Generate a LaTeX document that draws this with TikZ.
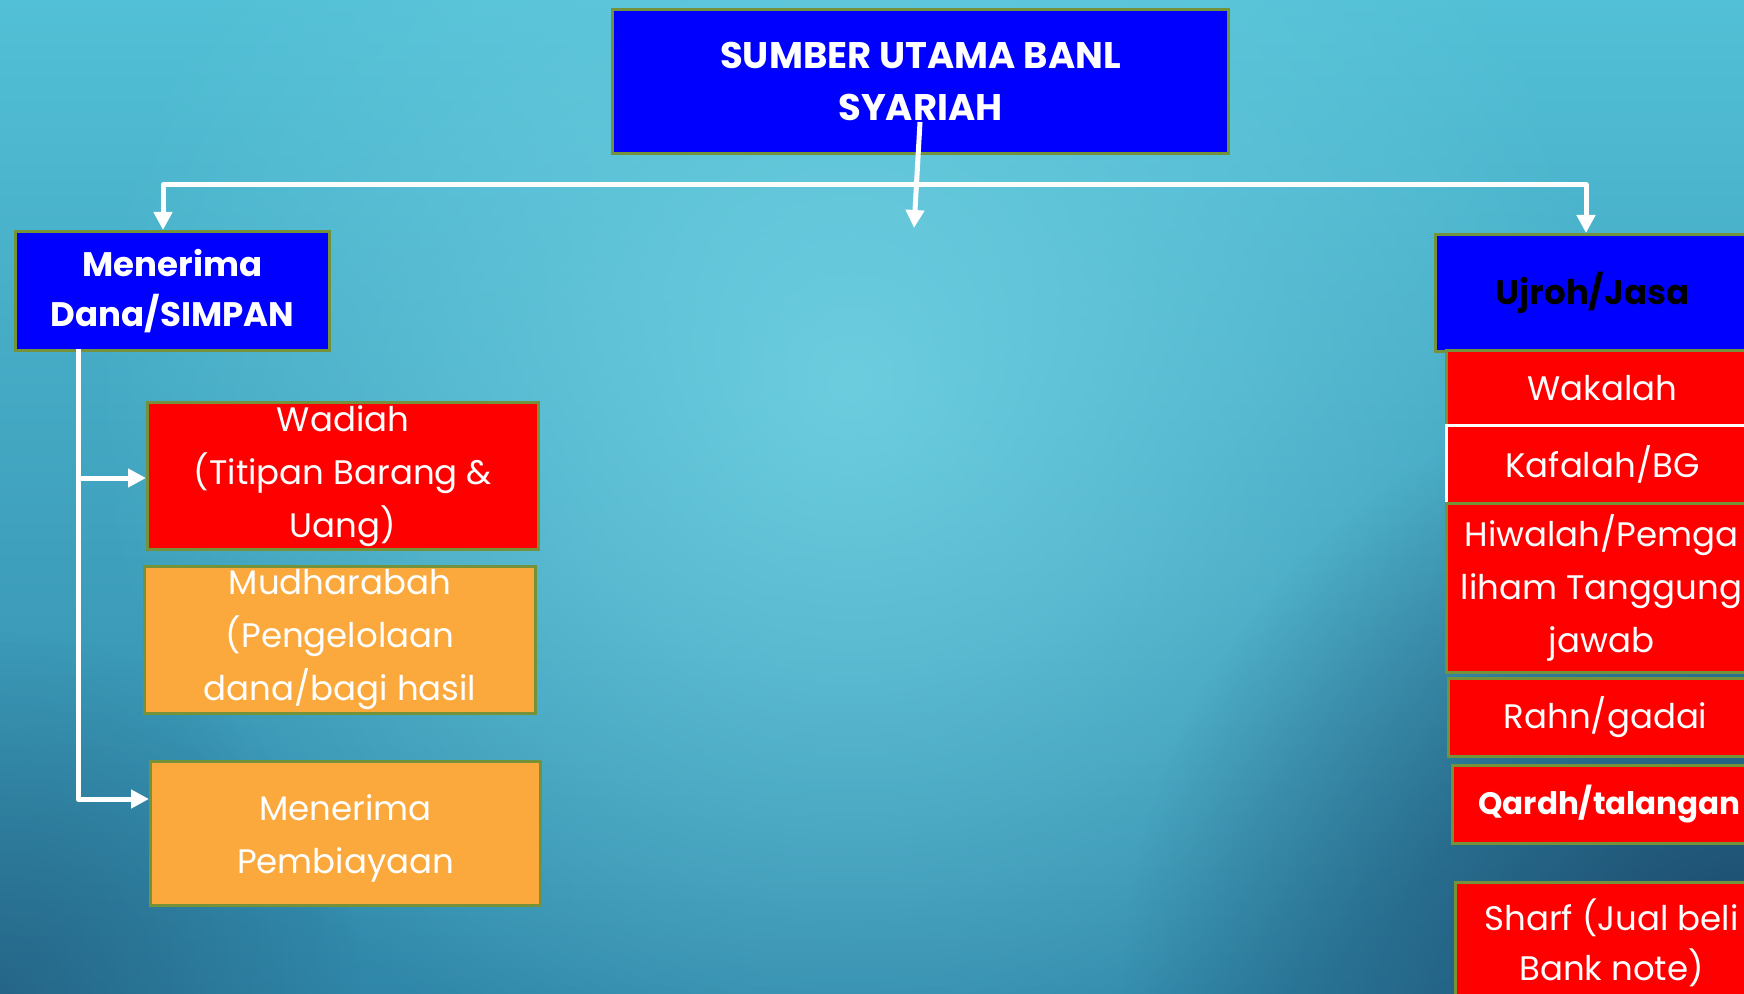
\documentclass[tikz,border=0pt]{standalone}
\usepackage{fontspec}
\setmainfont{Poppins}
\usetikzlibrary{arrows.meta,fadings,calc}
\definecolor{bgtop}{HTML}{52C0D6}
\definecolor{bgbot}{HTML}{2F86A8}
\definecolor{bglight}{HTML}{6CCDDF}
\definecolor{bgdark}{HTML}{1B4668}
\definecolor{boxgreen}{HTML}{74923A}
\definecolor{boxblue}{HTML}{0000FF}
\definecolor{boxred}{HTML}{FF0000}
\definecolor{boxorange}{HTML}{FBA93D}
\tikzfading[name=myfade, inner color=transparent!0, outer color=transparent!100]
\tikzset{
  bx/.style={draw=boxgreen, line width=1.5pt, inner sep=0pt, anchor=north west, align=center, text=white},
  bluebx/.style={bx, fill=boxblue, font=\fontsize{17}{25}\selectfont\bfseries},
  redbx/.style={bx, fill=boxred, font=\fontsize{17}{26.5}\selectfont},
  orbx/.style={bx, fill=boxorange, font=\fontsize{17}{26.5}\selectfont},
  wline/.style={draw=white, line width=2.5pt, line join=round},
  wtip/.style={-{Triangle[width=9pt,length=9pt]}},
}
\begin{document}
\begin{tikzpicture}[x=0.5pt,y=-0.5pt]
\useasboundingbox (0,0) rectangle (1744,994);
\begin{scope}
\clip (0,0) rectangle (1744,994);
\fill[top color=bgtop, bottom color=bgbot] (0,0) rectangle (1744,994);
\fill[bglight, path fading=myfade] (850,380) circle (760);
\fill[bgdark, path fading=myfade] (1744,994) circle (620);
\fill[bgdark, opacity=0.5, path fading=myfade] (0,994) circle (360);
\end{scope}

% top node
\node[bluebx, minimum width=308pt, minimum height=72pt, font=\fontsize{18.5}{26}\selectfont\bfseries] (top) at (611,8) {SUMBER UTAMA BANL\\SYARIAH};

% left branch
\node[bluebx, minimum width=157pt, minimum height=59.5pt] (lb) at (14,230) {Menerima\\Dana/SIMPAN};
\node[redbx, minimum width=195.5pt, minimum height=73.5pt] (wad) at (146,401) {Wadiah\\(Titipan Barang \&\\Uang)};
\node[orbx, minimum width=195.5pt, minimum height=73.5pt] (mud) at (143,565) {Mudharabah\\(Pengelolaan\\dana/bagi hasil};
\node[orbx, minimum width=195pt, minimum height=72pt] (pemb) at (149,760) {\rule{0pt}{18pt}Menerima\\Pembiayaan};

% right branch
\node[bluebx, text=black, minimum width=157pt, minimum height=58.5pt] (rb) at (1434,233) {Ujroh/Jasa};
\node[redbx, minimum width=156pt, minimum height=37.5pt] (wak) at (1445,349) {Wakalah};
\node[redbx, draw=white, minimum width=156pt, minimum height=39pt] (kaf) at (1445,424) {Kafalah/BG};
\node[redbx, minimum width=155pt, minimum height=84.5pt] (hiw) at (1445,502) {Hiwalah/Pemga\\liham Tanggung\\jawab};
\node[redbx, minimum width=157pt, minimum height=39pt] (rahn) at (1447,677) {Rahn/gadai};
\node[redbx, minimum width=157pt, minimum height=39pt, font=\fontsize{15.5}{24}\selectfont\bfseries] (qardh) at (1451,764) {Qardh/talangan};
\node[redbx, minimum width=156pt, minimum height=60pt, font=\fontsize{17}{25}\selectfont] (sharf) at (1454,881) {Sharf (Jual beli\\Bank note)};

% connectors from top
\coordinate (hl) at (163,185);
\coordinate (hr) at (1586,185);
\coordinate (mtop) at (920,122);
\coordinate (mend) at (914,228);
\draw[wline, {Triangle[width=9pt,length=9pt]}-{Triangle[width=9pt,length=9pt]}] (hl |- lb.north) -- (hl) -- (hr) -- (hr |- rb.north);
\draw[wline, wtip] (mtop) -- (mend);

% left tree
\coordinate (vx) at (78,349);
\coordinate (vb) at (78,799);
\draw[wline, wtip] (vx) -- (vb) -- (vb -| pemb.west);
\draw[wline, wtip] (vx |- 0,478) -- (wad.west |- 0,478);
\end{tikzpicture}
\end{document}
